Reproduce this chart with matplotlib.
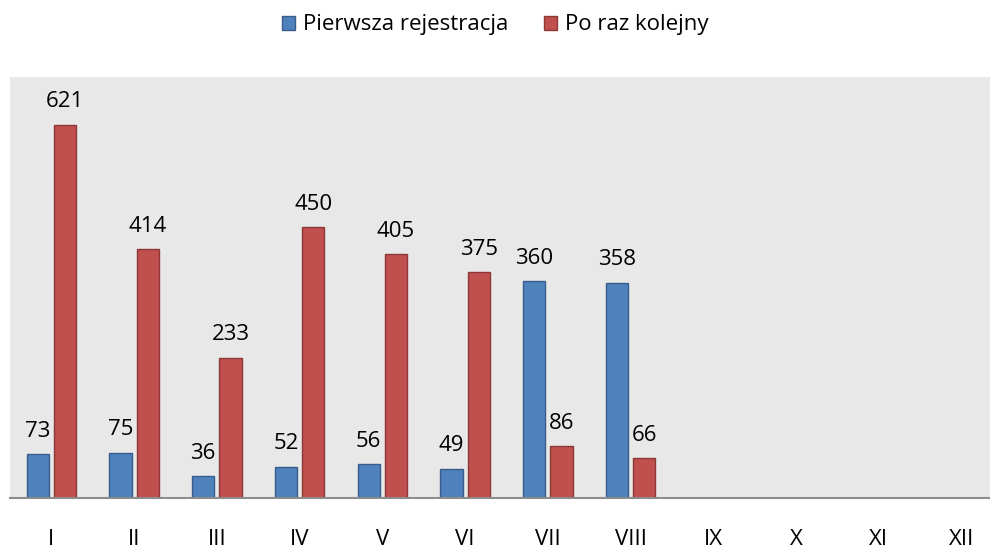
import matplotlib.pyplot as plt
import numpy as np

plt.rcParams['font.family'] = ['Open Sans', 'DejaVu Sans']

# data
months = ['I', 'II', 'III', 'IV', 'V', 'VI', 'VII', 'VIII', 'IX', 'X', 'XI', 'XII']
first = [73, 75, 36, 52, 56, 49, 360, 358]
again = [621, 414, 233, 450, 405, 375, 86, 66]
names = ['Pierwsza rejestracja', 'Po raz kolejny']

fs = 16

fig = plt.figure(figsize=(9.9, 5.53), dpi=100)
ax = fig.add_axes([10/990, 1 - 498/553, 993/990, 421/553])
ax.set_facecolor('#E8E8E8')

w = 0.27
x1 = np.arange(len(first))
b1 = ax.bar(x1 - 0.165, first, w, color='#4F81BD', edgecolor='#385D8A', lw=1, label=names[0])
b2 = ax.bar(x1 + 0.165, again, w, color='#C0504D', edgecolor='#8C3836', lw=1, label=names[1])

for bars in (b1, b2):
    for r in bars:
        ax.annotate(str(int(r.get_height())), (r.get_x() + r.get_width()/2, r.get_height()),
                    xytext=(0, 9), textcoords='offset points', ha='center', va='bottom', fontsize=fs)

ax.set_xlim(-0.5, 11.5)
ax.set_ylim(0, 700)
ax.set_xticks(range(12))
ax.set_xticklabels(months, fontsize=fs)
ax.tick_params(axis='x', length=0, pad=22)
ax.set_yticks([])
for s in ['top', 'left', 'right']:
    ax.spines[s].set_visible(False)
ax.spines['bottom'].set_color('#8C8C8C')
ax.spines['bottom'].set_linewidth(1.5)

fig.legend(loc='upper center', bbox_to_anchor=(0.5, 1.01), ncol=2, frameon=False, fontsize=fs,
           handlelength=0.6, handleheight=0.6, handletextpad=0.35, columnspacing=1.6)

fig.savefig('out.png')
